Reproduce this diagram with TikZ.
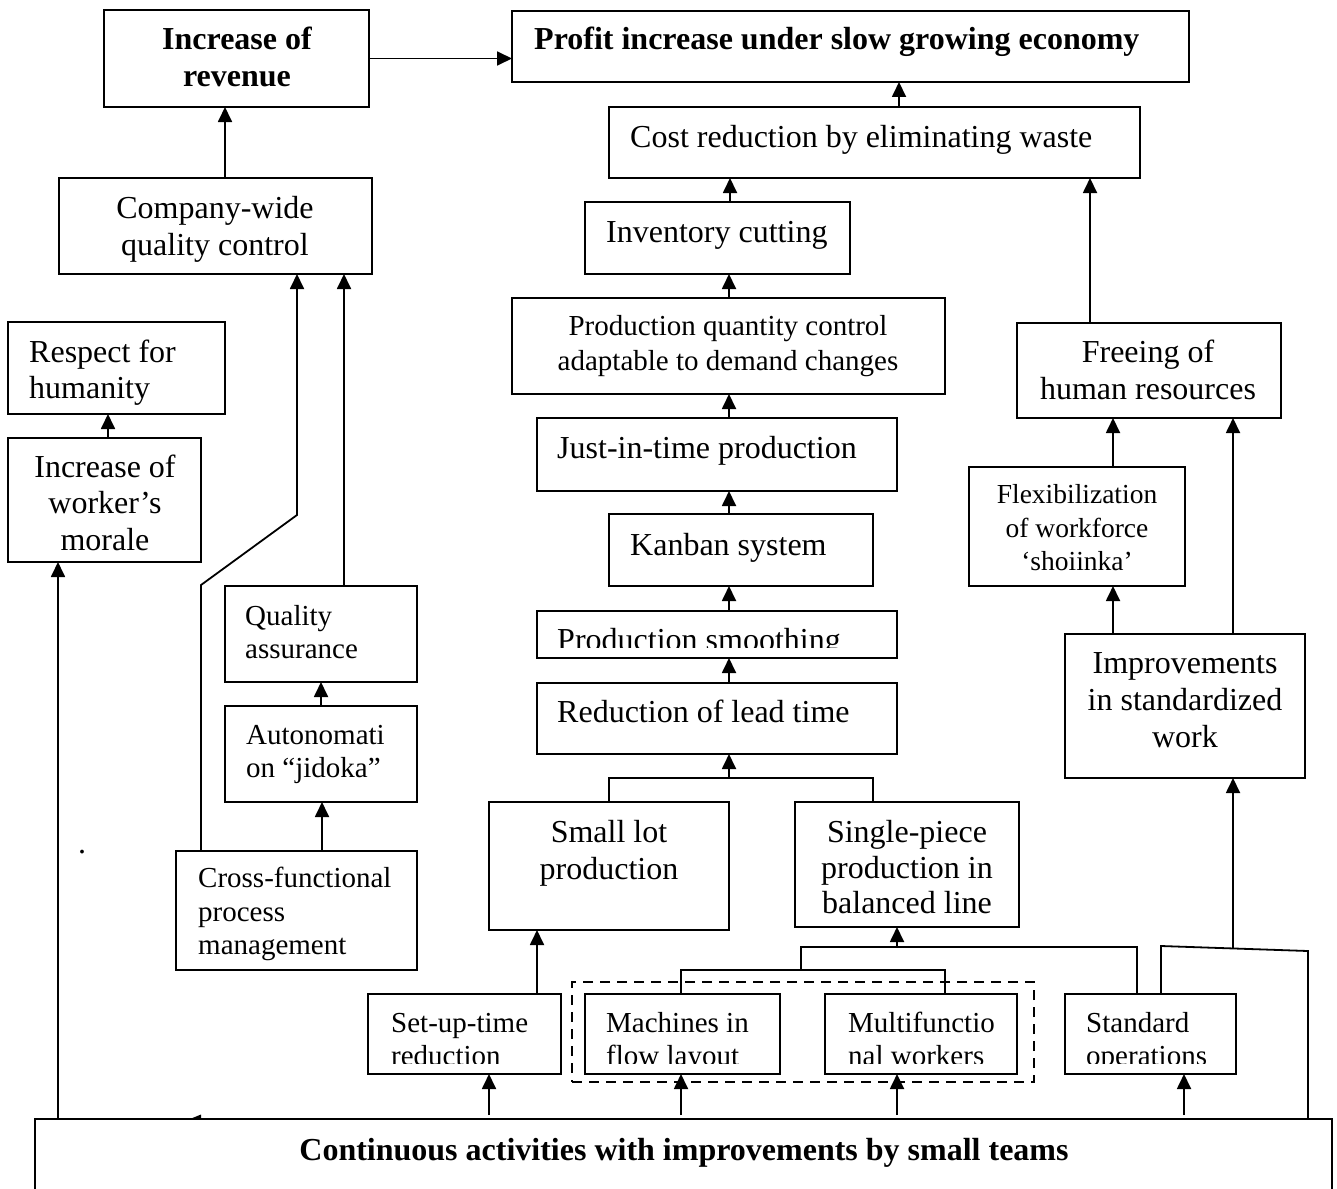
\documentclass[tikz,border=0pt]{standalone}
\usepackage{fontspec}
\setmainfont{Liberation Serif}
\usetikzlibrary{arrows.meta}
% text sizes used in the chart
\newcommand\szL{\fontsize{32}{36.5}\selectfont}
\newcommand\szM{\fontsize{29}{33}\selectfont}
\newcommand\szS{\fontsize{27.5}{33}\selectfont}
\tikzset{
  boxst/.style={draw, line width=2pt, anchor=north west, outer sep=0pt, inner sep=0pt},
  grpbox/.style={boxst, line width=2.3pt, dash pattern=on 10pt off 7pt},
  ln/.style={line width=1.8pt},
  arr/.style={ln, -{Triangle[length=15pt,width=14pt]}},
  lbl/.style={inner sep=0pt, font=\szL},
}
% \bx{name}{x1}{y1}{x2}{y2}: empty framed box given by its corners
\newcommand\bx[5]{\node[boxst, minimum width={#4-#2}, minimum height={#5-#3}] (#1) at (#2,#3) {};}
\begin{document}
\begin{tikzpicture}[x=1pt,y=-1pt]
\useasboundingbox (0,0) rectangle (1337,1188);
\fill[white] (0,0) rectangle (1337,1188);
\clip (0,0) rectangle (1337,1188);

% ---- boxes ----
\bx{rev}{104}{10}{369}{107}
\bx{profit}{512}{11}{1189}{82}
\bx{cost}{609}{107}{1140}{178}
\bx{inv}{585}{202}{850}{274}
\bx{cwqc}{59}{178}{372}{274}
\bx{pqc}{512}{298}{945}{394}
\bx{jit}{537}{418}{897}{491}
\bx{kanban}{609}{514}{873}{586}
\bx{smooth}{537}{611}{897}{658}
\bx{lead}{537}{683}{897}{754}
\bx{smalllot}{489}{802}{729}{930}
\bx{single}{795}{802}{1019}{927}
\bx{respect}{8}{322}{225}{414}
\bx{morale}{8}{438}{201}{562}
\bx{qa}{225}{586}{417}{682}
\bx{auto}{225}{706}{417}{802}
\bx{cross}{176}{851}{417}{970}
\bx{setup}{368}{994}{561}{1074}
\bx{mach}{585}{994}{780}{1074}
\bx{multi}{825}{994}{1017}{1074}
\bx{stdop}{1065}{994}{1236}{1074}
\bx{freeing}{1017}{323}{1281}{418}
\bx{flex}{969}{467}{1185}{586}
\bx{improv}{1065}{634}{1305}{778}
\bx{cont}{35}{1119}{1332}{1260}
\node[grpbox, minimum width=462, minimum height=100] (grp) at (572,982) {};

% ---- labels ----
\node[lbl, font=\szL\bfseries, anchor=base] (rev-a) at (237,50) {Increase of};
\node[lbl, font=\szL\bfseries, anchor=base] (rev-b) at (237,87) {revenue};
\node[lbl, font=\szL\bfseries, anchor=base west] (profit-a) at (534,50) {Profit increase under slow growing economy};
\node[lbl, anchor=base west] (cost-a) at (630,147) {Cost reduction by eliminating waste};
\node[lbl, anchor=base west] (inv-a) at (606,242) {Inventory cutting};
\node[lbl, anchor=base] (cwqc-a) at (215,218) {Company-wide};
\node[lbl, anchor=base] (cwqc-b) at (215,255) {quality control};
\node[lbl, anchor=base west] (respect-a) at (29,362) {Respect for};
\node[lbl, anchor=base west] (respect-b) at (29,398) {humanity};
\node[lbl, anchor=base] (morale-a) at (105,477) {Increase of};
\node[lbl, anchor=base] (morale-b) at (105,513) {worker’s};
\node[lbl, anchor=base] (morale-c) at (105,550) {morale};
\node[lbl, font=\szM, anchor=base] (pqc-a) at (728,335) {Production quantity control};
\node[lbl, font=\szM, anchor=base] (pqc-b) at (728,370) {adaptable to demand changes};
\node[lbl, anchor=base west] (jit-a) at (557,458) {Just-in-time production};
\node[lbl, anchor=base west] (kanban-a) at (630,555) {Kanban system};
\begin{scope}
  \clip (537,611) rectangle (897,647);
  \node[lbl, anchor=base west] (smooth-a) at (557,650) {Production smoothing};
\end{scope}
\node[lbl, anchor=base west] (lead-a) at (557,722) {Reduction of lead time};
\node[lbl, anchor=base] (smalllot-a) at (609,842) {Small lot};
\node[lbl, anchor=base] (smalllot-b) at (609,879) {production};
\node[lbl, anchor=base] (single-a) at (907,842) {Single-piece};
\node[lbl, anchor=base] (single-b) at (907,878) {production in};
\node[lbl, anchor=base] (single-c) at (907,913) {balanced line};
\node[lbl, font=\szM, anchor=base west] (qa-a) at (245,625) {Quality};
\node[lbl, font=\szM, anchor=base west] (qa-b) at (245,658) {assurance};
\node[lbl, font=\szM, anchor=base west] (auto-a) at (246,744) {Autonomati};
\node[lbl, font=\szM, anchor=base west] (auto-b) at (246,777) {on “jidoka”};
\node[lbl, font=\szM, anchor=base west] (cross-a) at (198,887) {Cross-functional};
\node[lbl, font=\szM, anchor=base west] (cross-b) at (198,921) {process};
\node[lbl, font=\szM, anchor=base west] (cross-c) at (198,954) {management};
\begin{scope}
  \clip (368,994) rectangle (1236,1063);
  \node[lbl, font=\szM, anchor=base west] (setup-a) at (391,1032) {Set-up-time};
  \node[lbl, font=\szM, anchor=base west] (setup-b) at (391,1065) {reduction};
  \node[lbl, font=\szM, anchor=base west] (mach-a) at (606,1032) {Machines in};
  \node[lbl, font=\szM, anchor=base west] (mach-b) at (606,1065) {flow layout};
  \node[lbl, font=\szM, anchor=base west] (multi-a) at (848,1032) {Multifunctio};
  \node[lbl, font=\szM, anchor=base west] (multi-b) at (848,1065) {nal workers};
  \node[lbl, font=\szM, anchor=base west] (stdop-a) at (1086,1032) {Standard};
  \node[lbl, font=\szM, anchor=base west] (stdop-b) at (1086,1065) {operations};
\end{scope}
\node[lbl, anchor=base] (freeing-a) at (1148,362) {Freeing of};
\node[lbl, anchor=base] (freeing-b) at (1148,399) {human resources};
\node[lbl, font=\szS, anchor=base] (flex-a) at (1077,503) {Flexibilization};
\node[lbl, font=\szS, anchor=base] (flex-b) at (1077,537) {of workforce};
\node[lbl, font=\szS, anchor=base] (flex-c) at (1077,570) {‘shoiinka’};
\node[lbl, anchor=base] (improv-a) at (1185,673) {Improvements};
\node[lbl, anchor=base] (improv-b) at (1185,710) {in standardized};
\node[lbl, anchor=base] (improv-c) at (1185,747) {work};
\node[lbl, font=\szL\bfseries, anchor=base] (cont-a) at (684,1160) {Continuous activities with improvements by small teams};
\node[lbl, anchor=base] (dot) at (82,853) {.};

% ---- connectors ----
\draw[arr] (rev.east) -- (rev.east -| profit.west);
\draw[arr] (225,0 |- cwqc.north) -- (225,0 |- rev.south);
\draw[arr] (899,0 |- cost.north) -- (899,0 |- profit.south);
\draw[arr] (730,0 |- inv.north) -- (730,0 |- cost.south);
\draw[arr] (729,0 |- pqc.north) -- (729,0 |- inv.south);
\draw[arr] (729,0 |- jit.north) -- (729,0 |- pqc.south);
\draw[arr] (729,0 |- kanban.north) -- (729,0 |- jit.south);
\draw[arr] (729,0 |- smooth.north) -- (729,0 |- kanban.south);
\draw[arr] (729,0 |- lead.north) -- (729,0 |- smooth.south);

\coordinate (jlead) at (729,778);
\draw[ln] (609,0 |- smalllot.north) |- (873,778) -- (873,0 |- single.north);
\draw[arr] (jlead) -- (729,0 |- lead.south);

\draw[arr] (537,0 |- setup.north) -- (537,0 |- smalllot.south);

\coordinate (jmm) at (801,970);
\coordinate (jsingle) at (897,947);
\draw[ln] (681,0 |- mach.north) |- (945,970) -- (945,0 |- multi.north);
\draw[ln] (jmm) |- (1137,947) -- (1137,0 |- stdop.north);
\draw[arr] (jsingle) -- (897,0 |- single.south);

\coordinate (jimp) at (1233,948.5);
\draw[ln] (1161,0 |- stdop.north) -- (1161,946) -- (1308,951) -- (1308,0 |- cont.north);
\draw[arr] (jimp) -- (1233,0 |- improv.south);

\draw[arr] (1233,0 |- improv.north) -- (1233,0 |- freeing.south);
\draw[arr] (1113,0 |- improv.north) -- (1113,0 |- flex.south);
\draw[arr] (1113,0 |- flex.north) -- (1113,0 |- freeing.south);
\draw[arr] (1090,0 |- freeing.north) -- (1090,0 |- cost.south);

\draw[arr] (108,0 |- morale.north) -- (108,0 |- respect.south);
\draw[arr] (58,0 |- cont.north) -- (58,0 |- morale.south);
\draw[arr] (201,0 |- cross.north) -- (201,585) -- (297,515) -- (297,0 |- cwqc.south);
\draw[arr] (344,0 |- qa.north) -- (344,0 |- cwqc.south);
\draw[arr] (321,0 |- auto.north) -- (321,0 |- qa.south);
\draw[arr] (322,0 |- cross.north) -- (322,0 |- auto.south);

\foreach \xx/\nn in {489/setup,681/mach,897/multi,1184/stdop}
  \draw[arr, shorten <=4pt] (\xx,0 |- cont.north) -- (\xx,0 |- \nn.south);

% small tip fragment resting on the bottom box
\fill (190,1119) -- (201,1114.5) -- (201,1119) -- cycle;
\end{tikzpicture}
\end{document}
